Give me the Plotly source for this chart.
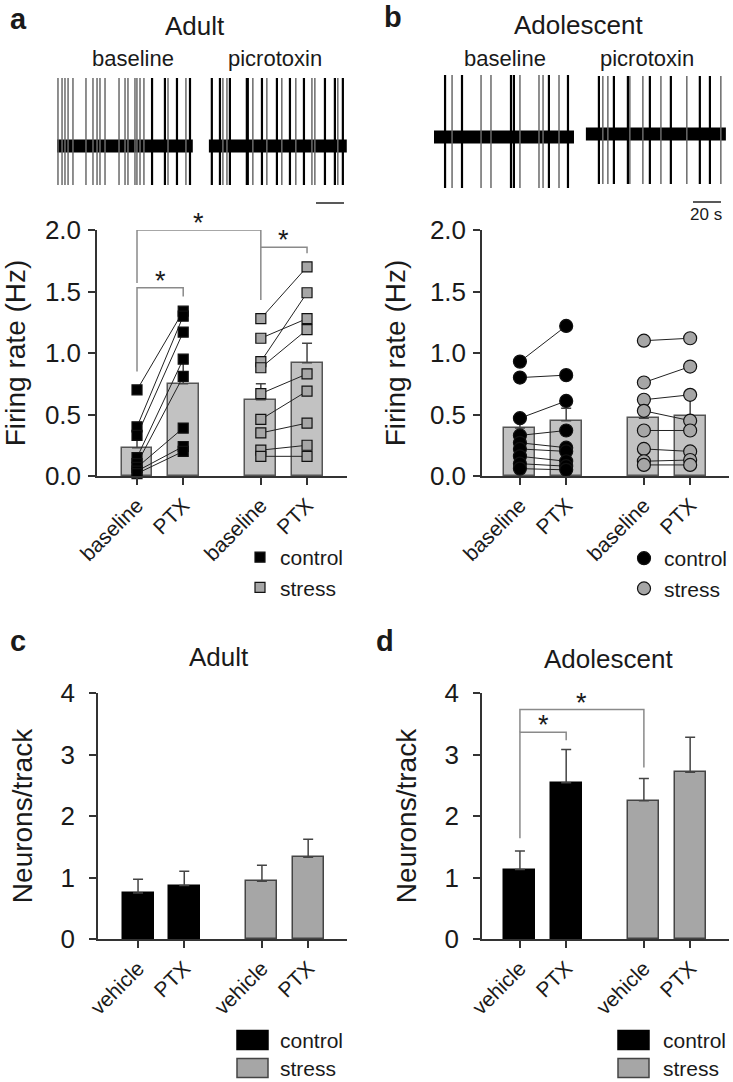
import plotly.graph_objects as go

W, H = 733, 1082

# ---------------- data ----------------
cats_ab = ["baseline", "PTX", "baseline", "PTX"]
cats_cd = ["vehicle", "PTX", "vehicle", "PTX"]
groups = ["control", "stress"]

# panel a : adult firing rate (Hz)
a_mean_control = [0.23, 0.75]
a_sem_control = [0.08, 0.17]
a_mean_stress = [0.62, 0.92]
a_sem_stress = [0.13, 0.16]
a_ctrl_base = [0.70, 0.40, 0.33, 0.15, 0.10, 0.07, 0.04, 0.02]
a_ctrl_ptx = [1.34, 1.30, 1.17, 0.95, 0.81, 0.39, 0.24, 0.20]
a_str_base = [1.28, 1.12, 0.93, 0.88, 0.67, 0.46, 0.35, 0.21, 0.16]
a_str_ptx = [1.70, 1.28, 1.49, 1.19, 0.83, 0.69, 0.43, 0.25, 0.16]

# panel b : adolescent firing rate (Hz)
b_mean_control = [0.39, 0.45]
b_sem_control = [0.05, 0.10]
b_mean_stress = [0.47, 0.49]
b_sem_stress = [0.08, 0.14]
b_ctrl_base = [0.93, 0.80, 0.47, 0.33, 0.27, 0.22, 0.16, 0.10, 0.06]
b_ctrl_ptx = [1.22, 0.82, 0.61, 0.37, 0.23, 0.20, 0.12, 0.08, 0.05]
b_str_base = [1.10, 0.76, 0.62, 0.53, 0.37, 0.22, 0.12, 0.09]
b_str_ptx = [1.12, 0.89, 0.66, 0.45, 0.37, 0.20, 0.13, 0.09]

# panel c : adult neurons/track
c_mean_control = [0.75, 0.87]
c_sem_control = [0.22, 0.23]
c_mean_stress = [0.94, 1.33]
c_sem_stress = [0.26, 0.29]

# panel d : adolescent neurons/track
d_mean_control = [1.13, 2.54]
d_sem_control = [0.30, 0.54]
d_mean_stress = [2.25, 2.71]
d_sem_stress = [0.36, 0.57]

# significance brackets: (left cat, right cat, top, left-leg end, right-leg end)
a_brackets = [(0, 1, 1.53, 0.85, 1.46), (0, 2, 2.00, 1.57, 1.43), (2, 3, 1.86, 1.86, 1.81)]
d_brackets = [(0, 1, 3.36, 1.64, 3.23), (0, 2, 3.73, 3.36, 2.79)]

# extracellular recordings: spike times (s) of each ~100 s trace
a_base_dur = 97.0
a_base_dark = [67.9, 77.1, 85.7, 95.0]
a_base_light = [0.7, 3.6, 5.7, 7.9, 11.4, 20.7, 25.7, 28.6, 30.7, 34.3, 44.3, 48.6,
                50.7, 55.7, 57.1, 59.3, 62.1, 79.3, 92.1]
a_ptx_dur = 98.5
a_ptx_dark = [2.1, 7.9, 15.0, 27.1, 27.8, 37.9, 48.6, 57.9, 67.9, 82.9, 90.0, 95.7]
a_ptx_light = [10.0, 12.9, 31.4, 41.4, 52.1, 62.1, 73.6, 75.7, 92.1]
b_base_dur = 100.0
b_base_dark = [7.9, 20.0, 55.0, 57.1, 82.1, 95.7]
b_base_light = [12.9, 33.6, 40.7, 61.4, 75.0, 77.9, 89.3]
b_ptx_dur = 100.0
b_ptx_dark = [9.3, 20.0, 30.0, 45.7, 60.7, 81.4, 88.6]
b_ptx_light = [12.1, 15.7, 31.4, 40.7, 53.6, 72.1, 96.4]
scale_bar_s = 20

# ---------------- style / layout helpers ----------------
FONT = "Liberation Sans, Arial, sans-serif"
TXT = "#1a1a1a"
AX = "#333333"
BAR_LIGHT = "#c2c2c2"
STRESS = "#a6a6a6"
GAP = 0.68
pos = [i + GAP * (i // 2) for i in range(4)]
BW = 0.67
PICRO_OFFSET = 108.5


def xd(l, r):
    return [l / W, r / W]


def yd(top, bottom):
    return [1 - bottom / H, 1 - top / H]


fig = go.Figure()


def add_bars(ax, means_c, sems_c, means_s, sems_s, col_c, col_s, line_c, line_s):
    for g, (m, s, col, lc) in enumerate([(means_c, sems_c, col_c, line_c),
                                          (means_s, sems_s, col_s, line_s)]):
        fig.add_trace(go.Bar(
            x=pos[2 * g:2 * g + 2], y=m, width=BW,
            marker=dict(color=col, line=dict(color=lc, width=1.5)),
            error_y=dict(type="data", array=s, arrayminus=[0, 0], symmetric=False,
                         width=5, thickness=1.5, color="#444444"),
            xaxis="x" + ax, yaxis="y" + ax, showlegend=False, name=groups[g]))


def add_pairs(ax, base, ptx, g, symbol, size, fill, legend):
    x0, x1 = pos[2 * g], pos[2 * g + 1]
    lx, ly = [], []
    for b, p in zip(base, ptx):
        lx += [x0, x1, None]
        ly += [b, p, None]
    fig.add_trace(go.Scatter(x=lx, y=ly, mode="lines", line=dict(color="#222222", width=1),
                             xaxis="x" + ax, yaxis="y" + ax, showlegend=False,
                             hoverinfo="skip", cliponaxis=False))
    fig.add_trace(go.Scatter(
        x=[x0] * len(base) + [x1] * len(ptx), y=list(base) + list(ptx), mode="markers",
        marker=dict(symbol=symbol, size=size, color=fill, line=dict(color="#111111", width=1.2)),
        xaxis="x" + ax, yaxis="y" + ax, name=groups[g], legend=legend, cliponaxis=False))


def add_brackets(ax, brackets):
    for (i, j, top, lb, rb) in brackets:
        fig.add_trace(go.Scatter(x=[pos[i], pos[i], pos[j], pos[j]], y=[lb, top, top, rb],
                                 mode="lines", line=dict(color="#8a8a8a", width=1.5),
                                 xaxis="x" + ax, yaxis="y" + ax, showlegend=False,
                                 hoverinfo="skip", cliponaxis=False))
        fig.add_annotation(x=(pos[i] + pos[j]) / 2, y=top, xref="x" + ax, yref="y" + ax,
                           text="*", showarrow=False, yanchor="middle", yshift=7,
                           font=dict(size=27, color=TXT))


def add_trace_rec(ax, offset, dur, dark, light, up, down, band_w, band_y=0):
    fig.add_trace(go.Scatter(x=[offset, offset + dur], y=[band_y, band_y], mode="lines",
                             line=dict(color="#000000", width=band_w),
                             xaxis="x" + ax, yaxis="y" + ax, showlegend=False, hoverinfo="skip"))
    for times, col, wd in [(light, "#6a6a6a", 1.5), (dark, "#000000", 2.2)]:
        sx, sy = [], []
        for t in times:
            sx += [offset + t, offset + t, None]
            sy += [band_y + up, band_y + down, None]
        fig.add_trace(go.Scatter(x=sx, y=sy, mode="lines", line=dict(color=col, width=wd),
                                 xaxis="x" + ax, yaxis="y" + ax, showlegend=False,
                                 hoverinfo="skip"))


# ---- bars ----
add_bars("", a_mean_control, a_sem_control, a_mean_stress, a_sem_stress,
         BAR_LIGHT, BAR_LIGHT, "#555555", "#555555")
add_bars("2", b_mean_control, b_sem_control, b_mean_stress, b_sem_stress,
         BAR_LIGHT, BAR_LIGHT, "#555555", "#555555")
add_bars("3", c_mean_control, c_sem_control, c_mean_stress, c_sem_stress,
         "#000000", STRESS, "#000000", "#444444")
add_bars("4", d_mean_control, d_sem_control, d_mean_stress, d_sem_stress,
         "#000000", STRESS, "#000000", "#444444")

# ---- individual neurons ----
add_pairs("", a_ctrl_base, a_ctrl_ptx, 0, "square", 10, "#000000", "legend")
add_pairs("", a_str_base, a_str_ptx, 1, "square", 10, STRESS, "legend")
add_pairs("2", b_ctrl_base, b_ctrl_ptx, 0, "circle", 13, "#000000", "legend2")
add_pairs("2", b_str_base, b_str_ptx, 1, "circle", 13, STRESS, "legend2")

add_brackets("", a_brackets)
add_brackets("4", d_brackets)

# ---- recordings ----
add_trace_rec("5", 0, a_base_dur, a_base_dark, a_base_light, 68, -39, 13)
add_trace_rec("5", PICRO_OFFSET, a_ptx_dur, a_ptx_dark, a_ptx_light, 68, -39, 13)
add_trace_rec("6", 0, b_base_dur, b_base_dark, b_base_light, 62, -51, 13)
add_trace_rec("6", PICRO_OFFSET, b_ptx_dur, b_ptx_dark, b_ptx_light, 58, -50, 13, band_y=3)

# scale bars (20 s)
for ax, yb in [("5", -57), ("6", -65)]:
    fig.add_trace(go.Scatter(x=[185, 185 + scale_bar_s], y=[yb, yb], mode="lines",
                             line=dict(color="#222222", width=1.5), xaxis="x" + ax,
                             yaxis="y" + ax, showlegend=False, hoverinfo="skip"))

# ---------------- axes ----------------
def bar_axes(xdom, ydom, xr, yr, ticks, fmt, cats, standoff):
    xa = dict(domain=xdom, range=xr, tickvals=pos, ticktext=cats, tickangle=-45,
              showline=True, linecolor=AX, linewidth=1.5, ticks="outside", ticklen=7,
              tickwidth=1.5, tickcolor=AX, showgrid=False, zeroline=False,
              tickfont=dict(size=21, color=TXT), automargin=False, fixedrange=True)
    ya = dict(domain=ydom, range=yr, tickvals=ticks, tickformat=fmt, showline=True,
              linecolor=AX, linewidth=1.5, ticks="outside", ticklen=7, tickwidth=1.5,
              tickcolor=AX, showgrid=False, zeroline=False, ticklabelstandoff=standoff,
              tickfont=dict(size=26, color=TXT), automargin=False, fixedrange=True)
    return xa, ya


xa1, ya1 = bar_axes(xd(97, 347), yd(230, 476), [-0.866, 4.545], [0, 2.0],
                    [0, 0.5, 1.0, 1.5, 2.0], ".1f", cats_ab, 2)
xa2, ya2 = bar_axes(xd(482, 729), yd(230, 476), [-0.82, 4.52], [0, 2.0],
                    [0, 0.5, 1.0, 1.5, 2.0], ".1f", cats_ab, 2)
xa3, ya3 = bar_axes(xd(98, 347), yd(693, 939), [-0.866, 4.52], [0, 4],
                    [0, 1, 2, 3, 4], "d", cats_cd, 9)
xa4, ya4 = bar_axes(xd(482, 729), yd(693, 939), [-0.82, 4.52], [0, 4],
                    [0, 1, 2, 3, 4], "d", cats_cd, 9)
ya1["title"] = dict(text="Firing rate (Hz)", font=dict(size=28, color=TXT), standoff=16)
ya2["title"] = dict(text="Firing rate (Hz)", font=dict(size=28, color=TXT), standoff=16)
ya3["title"] = dict(text="Neurons/track", font=dict(size=28, color=TXT), standoff=20)
ya4["title"] = dict(text="Neurons/track", font=dict(size=28, color=TXT), standoff=20)
xa2["anchor"], ya2["anchor"] = "y2", "x2"
xa3["anchor"], ya3["anchor"] = "y3", "x3"
xa4["anchor"], ya4["anchor"] = "y4", "x4"

hidden = dict(visible=False, fixedrange=True)
fig.update_layout(
    width=W, height=H, margin=dict(l=0, r=0, t=0, b=0),
    paper_bgcolor="white", plot_bgcolor="rgba(0,0,0,0)",
    font=dict(family=FONT, color=TXT), bargap=0,
    xaxis=xa1, yaxis=ya1, xaxis2=xa2, yaxis2=ya2, xaxis3=xa3, yaxis3=ya3,
    xaxis4=xa4, yaxis4=ya4,
    xaxis5=dict(domain=xd(50, 350), range=[-5, 209.3], anchor="y5", **hidden),
    yaxis5=dict(domain=yd(65, 210), range=[-64, 81], anchor="x5", **hidden),
    xaxis6=dict(domain=xd(427, 727), range=[-5, 209.3], anchor="y6", **hidden),
    yaxis6=dict(domain=yd(65, 210), range=[-73, 72], anchor="x6", **hidden),
    legend=dict(x=240 / W, y=1 - 537 / H, xanchor="left", yanchor="top",
                font=dict(size=21, color=TXT), bgcolor="rgba(0,0,0,0)", tracegroupgap=0),
    legend2=dict(x=624 / W, y=1 - 538 / H, xanchor="left", yanchor="top",
                 font=dict(size=21, color=TXT), bgcolor="rgba(0,0,0,0)", tracegroupgap=0),
    showlegend=True,
)

# ---------------- text ----------------
def txt(x, y, s, size, bold=False, xanchor="center"):
    fig.add_annotation(x=x / W, y=1 - y / H, xref="paper", yref="paper", text=s,
                       showarrow=False, xanchor=xanchor, yanchor="middle",
                       font=dict(size=size, color=TXT, family=FONT,
                                 weight="bold" if bold else "normal"))


txt(18, 19, "a", 29, True)
txt(393, 17, "b", 29, True)
txt(18, 641, "c", 29, True)
txt(385, 641, "d", 29, True)
txt(195, 26, "Adult", 26)
txt(578, 25, "Adolescent", 26)
txt(219, 657, "Adult", 26)
txt(608, 659, "Adolescent", 26)
txt(133, 58, "baseline", 22)
txt(275, 58, "picrotoxin", 22)
txt(505, 58, "baseline", 22)
txt(647, 58, "picrotoxin", 22)
txt(706, 214, "20 s", 17)

# manual bar legends for c and d
for lx, tx in [(237, 278), (618, 661)]:
    for yc, col, lc, lab in [(1040, "#000000", "#000000", "control"),
                             (1068, STRESS, "#444444", "stress")]:
        fig.add_shape(type="rect", xref="paper", yref="paper",
                      x0=lx / W, x1=(lx + 31) / W, y0=1 - (yc + 9.5) / H, y1=1 - (yc - 9.5) / H,
                      fillcolor=col, line=dict(color=lc, width=1.5))
        txt(tx, yc, lab, 21, xanchor="left")

fig.write_html("out.html", config={"displayModeBar": False},
               post_script="document.body.style.margin='0';"
               "document.body.style.overflow='hidden';")
